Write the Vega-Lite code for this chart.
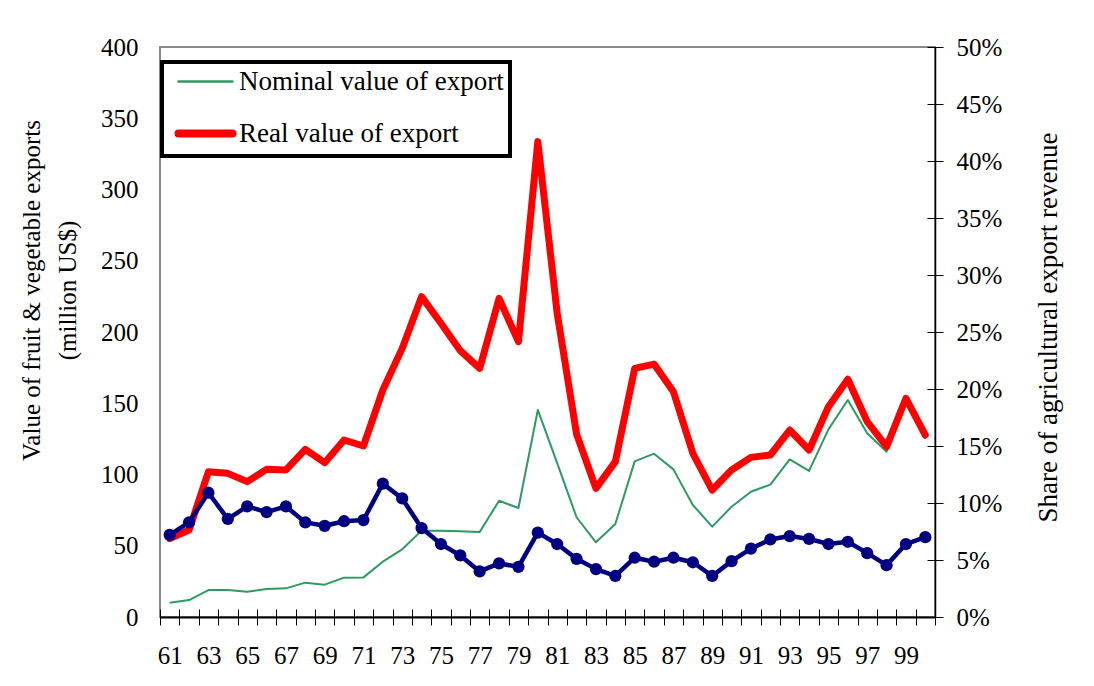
{
  "$schema": "https://vega.github.io/schema/vega-lite/v6.json",
  "width": 775,
  "height": 570,
  "autosize": "none",
  "padding": {"left": 160, "top": 47, "right": 159, "bottom": 69},
  "background": "white",
  "config": {
    "font": "Liberation Serif",
    "view": {"stroke": "#8a8a8a", "strokeWidth": 2},
    "axis": {
      "labelFont": "Liberation Serif",
      "labelFontSize": 25,
      "labelColor": "black",
      "titleFont": "Liberation Serif",
      "titleFontSize": 25,
      "titleFontWeight": "normal",
      "titleColor": "black",
      "grid": false,
      "labelOverlap": false,
      "labelFlush": false,
      "tickColor": "black",
      "domainColor": "black"
    },
    "legend": {
      "orient": "none",
      "legendX": 2,
      "legendY": 15,
      "title": null,
      "strokeColor": "black",
      "padding": 6,
      "labelFont": "Liberation Serif",
      "labelFontSize": 27,
      "labelColor": "black",
      "labelLimit": 500,
      "labelOffset": 44,
      "rowPadding": 22,
      "symbolSize": 676,
      "symbolStrokeWidth": 2.5,
      "symbolType": "M-0.23,0H3.92"
    }
  },
  "data": {
    "values": [
      {"year": 1961, "nominal": 10.0, "real": 55, "share": 7.2},
      {"year": 1962, "nominal": 11.9, "real": 61, "share": 8.3},
      {"year": 1963, "nominal": 18.9, "real": 102, "share": 10.9},
      {"year": 1964, "nominal": 18.9, "real": 100.8, "share": 8.6},
      {"year": 1965, "nominal": 17.8, "real": 95, "share": 9.7},
      {"year": 1966, "nominal": 19.6, "real": 103.6, "share": 9.2},
      {"year": 1967, "nominal": 20.1, "real": 103.2, "share": 9.7},
      {"year": 1968, "nominal": 24.1, "real": 117.7, "share": 8.3},
      {"year": 1969, "nominal": 22.7, "real": 108.3, "share": 8.0},
      {"year": 1970, "nominal": 27.6, "real": 124.2, "share": 8.4},
      {"year": 1971, "nominal": 27.8, "real": 120, "share": 8.5},
      {"year": 1972, "nominal": 38.8, "real": 159.3, "share": 11.7},
      {"year": 1973, "nominal": 47.5, "real": 188.5, "share": 10.4},
      {"year": 1974, "nominal": 60.6, "real": 224.8, "share": 7.8},
      {"year": 1975, "nominal": 60.6, "real": 206.1, "share": 6.4},
      {"year": 1976, "nominal": 60.1, "real": 186.9, "share": 5.4},
      {"year": 1977, "nominal": 59.6, "real": 174.5, "share": 4.0},
      {"year": 1978, "nominal": 81.6, "real": 223.6, "share": 4.7},
      {"year": 1979, "nominal": 76.5, "real": 193.2, "share": 4.4},
      {"year": 1980, "nominal": 145.3, "real": 333.6, "share": 7.4},
      {"year": 1981, "nominal": 108, "real": 213, "share": 6.4},
      {"year": 1982, "nominal": 70.0, "real": 128.3, "share": 5.1},
      {"year": 1983, "nominal": 52.4, "real": 90.3, "share": 4.2},
      {"year": 1984, "nominal": 65.3, "real": 109, "share": 3.6},
      {"year": 1985, "nominal": 109.2, "real": 174.5, "share": 5.2},
      {"year": 1986, "nominal": 114.6, "real": 177.5, "share": 4.85},
      {"year": 1987, "nominal": 103.6, "real": 158.1, "share": 5.2},
      {"year": 1988, "nominal": 78.6, "real": 114.9, "share": 4.8},
      {"year": 1989, "nominal": 63.4, "real": 89.1, "share": 3.6},
      {"year": 1990, "nominal": 77.4, "real": 103.2, "share": 4.9},
      {"year": 1991, "nominal": 87.9, "real": 112, "share": 6.0},
      {"year": 1992, "nominal": 92.9, "real": 113.7, "share": 6.8},
      {"year": 1993, "nominal": 110.6, "real": 131.2, "share": 7.1},
      {"year": 1994, "nominal": 102.5, "real": 117.2, "share": 6.85},
      {"year": 1995, "nominal": 131.7, "real": 147.6, "share": 6.4},
      {"year": 1996, "nominal": 152.3, "real": 166.8, "share": 6.6},
      {"year": 1997, "nominal": 128.9, "real": 137.1, "share": 5.6},
      {"year": 1998, "nominal": 116, "real": 119.5, "share": 4.55},
      {"year": 1999, "nominal": 150, "real": 153.5, "share": 6.4},
      {"year": 2000, "nominal": 125, "real": 127.7, "share": 7.0}
    ]
  },
  "layer": [
    {
      "layer": [
        {
          "mark": {"type": "line", "color": "#2e9a62", "strokeWidth": 2, "strokeJoin": "round"},
          "encoding": {
            "x": {
              "field": "year", "type": "quantitative",
              "scale": {"domain": [1960.5, 2000.5], "nice": false, "zero": false},
              "axis": {
                "orient": "bottom",
                "values": [1961, 1963, 1965, 1967, 1969, 1971, 1973, 1975, 1977, 1979, 1981, 1983, 1985, 1987, 1989, 1991, 1993, 1995, 1997, 1999],
                "labelExpr": "substring(toString(datum.value), 2)",
                "ticks": false,
                "domain": true,
                "domainWidth": 2,
                "labelPadding": 26,
                "title": null
              }
            },
            "y": {
              "field": "nominal", "type": "quantitative",
              "scale": {"domain": [0, 400], "nice": false},
              "axis": {
                "orient": "left",
                "values": [0, 50, 100, 150, 200, 250, 300, 350, 400],
                "domain": false,
                "ticks": false,
                "labelPadding": 22,
                "title": ["Value of fruit & vegetable exports", "(million US$)"],
                "titleAngle": 270,
                "titleX": -121,
                "titleY": 243,
                "titleAlign": "center",
                "titleBaseline": "alphabetic",
                "titleLineHeight": 36
              }
            },
            "color": {
              "datum": "Nominal value of export",
              "type": "nominal",
              "scale": {
                "domain": ["Nominal value of export", "Real value of export"],
                "range": ["#2e9a62", "#ff0000"]
              },
              "legend": {
                "encode": {
                  "legend": {"update": {"strokeWidth": {"value": 4}}},
                  "symbols": {
                    "update": {
                      "strokeWidth": {"signal": "datum.value === 'Real value of export' ? 8 : 2.5"},
                      "strokeCap": {"value": "round"}
                    }
                  }
                }
              }
            }
          }
        },
        {
          "mark": {"type": "line", "color": "#ff0000", "strokeWidth": 7, "strokeJoin": "round", "strokeCap": "round"},
          "encoding": {
            "x": {
              "field": "year", "type": "quantitative",
              "axis": {
                "orient": "bottom",
                "values": [1960.5, 1961.5, 1962.5, 1963.5, 1964.5, 1965.5, 1966.5, 1967.5, 1968.5, 1969.5, 1970.5, 1971.5, 1972.5, 1973.5, 1974.5, 1975.5, 1976.5, 1977.5, 1978.5, 1979.5, 1980.5, 1981.5, 1982.5, 1983.5, 1984.5, 1985.5, 1986.5, 1987.5, 1988.5, 1989.5, 1990.5, 1991.5, 1992.5, 1993.5, 1994.5, 1995.5, 1996.5, 1997.5, 1998.5, 1999.5, 2000.5],
                "labels": false,
                "domain": false,
                "ticks": true,
                "tickSize": 8,
                "tickWidth": 1,
                "title": null
              }
            },
            "y": {"field": "real", "type": "quantitative", "axis": null},
            "color": {"datum": "Real value of export", "type": "nominal"}
          }
        }
      ],
      "resolve": {"axis": {"x": "independent", "y": "independent"}}
    },
    {
      "layer": [
        {
          "mark": {"type": "line", "color": "#000080", "strokeWidth": 4.5, "strokeJoin": "round"},
          "encoding": {
            "x": {
              "field": "year", "type": "quantitative",
              "axis": {
                "orient": "bottom",
                "values": [1960.5, 1961.5, 1962.5, 1963.5, 1964.5, 1965.5, 1966.5, 1967.5, 1968.5, 1969.5, 1970.5, 1971.5, 1972.5, 1973.5, 1974.5, 1975.5, 1976.5, 1977.5, 1978.5, 1979.5, 1980.5, 1981.5, 1982.5, 1983.5, 1984.5, 1985.5, 1986.5, 1987.5, 1988.5, 1989.5, 1990.5, 1991.5, 1992.5, 1993.5, 1994.5, 1995.5, 1996.5, 1997.5, 1998.5, 1999.5, 2000.5],
                "labels": false,
                "domain": false,
                "ticks": true,
                "tickSize": -8,
                "tickWidth": 1,
                "title": null
              }
            },
            "y": {
              "field": "share", "type": "quantitative",
              "scale": {"domain": [0, 50], "nice": false},
              "axis": {
                "orient": "right",
                "values": [0, 5, 10, 15, 20, 25, 30, 35, 40, 45, 50],
                "labelExpr": "datum.value + '%'",
                "tickSize": 8,
                "tickWidth": 1,
                "domain": true,
                "domainWidth": 1.5,
                "labelPadding": 13,
                "title": "Share of agricultural export revenue",
                "titleFontSize": 27,
                "titleAngle": 270,
                "titleX": 121,
                "titleY": 280,
                "titleAlign": "center",
                "titleBaseline": "alphabetic"
              }
            }
          }
        },
        {
          "mark": {"type": "point", "filled": true, "color": "#000080", "opacity": 1, "size": 150, "shape": "circle"},
          "encoding": {
            "x": {"field": "year", "type": "quantitative", "axis": null},
            "y": {
              "field": "share", "type": "quantitative",
              "axis": {
                "orient": "right",
                "values": [0, 5, 10, 15, 20, 25, 30, 35, 40, 45, 50],
                "labels": false,
                "domain": false,
                "tickSize": -8,
                "tickWidth": 1,
                "title": null
              }
            }
          }
        }
      ],
      "resolve": {"axis": {"x": "independent", "y": "independent"}}
    }
  ],
  "resolve": {"scale": {"y": "independent"}, "axis": {"x": "independent"}}
}
